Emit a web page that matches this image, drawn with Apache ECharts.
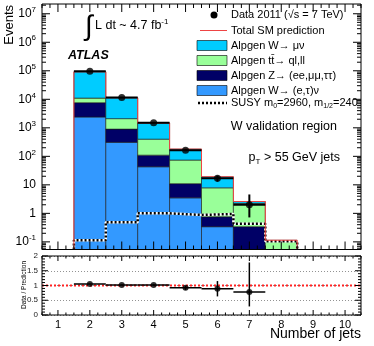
<!DOCTYPE html>
<html>
<head>
<meta charset="utf-8">
<script src="https://cdn.jsdelivr.net/npm/echarts@6/dist/echarts.min.js"></script>
<style>
html, body { margin: 0; padding: 0; background: #fff; }
#chart { width: 374px; height: 346px; }
</style>
</head>
<body>
<div id="chart"></div>
<script>
// jet multiplicity bins of the stacked histogram
const jets = [2, 3, 4, 5, 6, 7, 8];
const wTauE = [2400, 310, 43, 3.5, 0.34, 0.02, 0.001];
const zJets = [5200, 590, 67, 7.5, 0.42, 0.32, 0.003];
const ttbar = [3400, 1200, 290, 63, 7.1, 1.9, 0.105];
const wMu = [81000, 9200, 1070, 105, 11.3, 0.36, 0.005];
const susy = [0.115, 0.49, 1.0, 0.88, 0.95, 0.43, 0.106];

// data points
const dataJets = [2, 3, 4, 5, 6, 7];
const dataVal = [96000, 11500, 1500, 165, 17, 2];
const dataLo = [95690, 11390, 1461, 152, 12.9, 0.72];
const dataHi = [96310, 11610, 1539, 178, 21.1, 4.6];

// data / prediction
const ratioVal = [1.05, 1.02, 1.02, 0.92, 0.886, 0.78];
const ratioLo = [1.04, 1.01, 0.99, 0.85, 0.63, 0.29];
const ratioHi = [1.06, 1.03, 1.05, 0.99, 1.15, 1.78];

const xTickLabels = [1, 2, 3, 4, 5, 6, 7, 8, 9, 10];
const yTickLabels = [0.1, 1, 10, 100, 1e3, 1e4, 1e5, 1e6, 1e7];
const ratioTickLabels = [0, 0.5, 1, 1.5, 2];

const X_MIN = 0.5, X_MAX = 10.5;
const Y_MIN = 0.054, Y_MAX = 2.2e7;
const FONT = 'Liberation Sans, Arial, sans-serif';

const chart = echarts.init(document.getElementById('chart'), null, {renderer: 'canvas'});

const stackDefs = [
    {name: 'Alpgen W\u2192 (e,\u03c4)\u03bd', vals: wTauE, color: '#3399ff'},
    {name: 'Alpgen Z\u2192 (ee,\u03bc\u03bc,\u03c4\u03c4)', vals: zJets, color: '#000066'},
    {name: 'Alpgen tt\u0304\u2192 ql,ll', vals: ttbar, color: '#99ff99'},
    {name: 'Alpgen W\u2192 \u03bc\u03bd', vals: wMu, color: '#00ccff'}
];

let base = jets.map(() => 0);
const stackSeries = stackDefs.map(d => {
    const items = jets.map((j, i) => {
        const lo = base[i];
        base[i] += d.vals[i];
        return [j, base[i], lo];
    });
    return {
        type: 'custom', name: d.name, xAxisIndex: 0, yAxisIndex: 0, z: 2,
        encode: {x: 0, y: 1},
        data: items,
        renderItem: (params, api) => {
            const j = api.value(0);
            const hi = Math.min(api.value(1), Y_MAX);
            const lo = Math.max(api.value(2), Y_MIN);
            if (hi <= lo) return null;
            const p0 = api.coord([j - 0.5, hi]);
            const p1 = api.coord([j + 0.5, lo]);
            return {
                type: 'rect',
                shape: {x: p0[0], y: p0[1], width: p1[0] - p0[0], height: p1[1] - p0[1]},
                style: {fill: d.color, stroke: '#1a1a1a', lineWidth: 0.6}
            };
        }
    };
});
const totals = base.slice();

function stepPoints(vals) {
    const pts = [[jets[0] - 0.5, Y_MIN]];
    jets.forEach((j, i) => {
        pts.push([j - 0.5, vals[i]], [j + 0.5, vals[i]]);
    });
    pts.push([jets[jets.length - 1] + 0.5, Y_MIN]);
    return pts;
}

function line(x1, y1, x2, y2, w) {
    return {type: 'line', shape: {x1, y1, x2, y2}, style: {stroke: '#000', lineWidth: w || 1}};
}

// frame with inward ticks on all four sides
function frameSeries(xi, yi, yMin, yMax, xTicks, yTicks) {
    return {
        type: 'custom', xAxisIndex: xi, yAxisIndex: yi, z: 10, silent: true,
        data: [[1, 1]],
        renderItem: (params, api) => {
            const tl = api.coord([X_MIN, yMax]);
            const br = api.coord([X_MAX, yMin]);
            const kids = [{
                type: 'rect',
                shape: {x: tl[0], y: tl[1], width: br[0] - tl[0], height: br[1] - tl[1]},
                style: {fill: 'none', stroke: '#000', lineWidth: 1}
            }];
            xTicks.forEach(t => {
                const x = api.coord([t[0], yMin])[0];
                kids.push(line(x, br[1], x, br[1] - t[1]), line(x, tl[1], x, tl[1] + t[1]));
            });
            yTicks.forEach(t => {
                const y = api.coord([X_MIN, t[0]])[1];
                kids.push(line(tl[0], y, tl[0] + t[1], y), line(br[0], y, br[0] - t[1], y));
            });
            return {type: 'group', children: kids};
        }
    };
}

const mainXTicks = [], ratioXTicks = [];
for (let v = X_MIN; v <= X_MAX + 1e-9; v += 0.25) {
    const major = Math.abs(v - Math.round(v)) < 1e-6;
    mainXTicks.push([v, major ? 8 : 4]);
    ratioXTicks.push([v, major ? 5 : 2.5]);
}
const mainYTicks = [];
for (let e = -2; e <= 7; e++) {
    for (let m = 1; m <= 9; m++) {
        const v = m * Math.pow(10, e);
        if (v >= Y_MIN && v <= Y_MAX) mainYTicks.push([v, m === 1 ? 8 : 4]);
    }
}
const ratioYTicks = [];
for (let k = 0; k <= 20; k++) {
    ratioYTicks.push([k / 10, k % 5 === 0 ? 6 : 3]);
}

const dataItems = dataJets.map((j, i) => [j, dataVal[i], dataLo[i], dataHi[i]]);
const ratioItems = dataJets.map((j, i) => [j, ratioVal[i], ratioLo[i], ratioHi[i]]);

function errorBars(xi, yi, w) {
    return (params, api) => {
        const j = api.value(0);
        const c = api.coord([j, api.value(1)]);
        const l = api.coord([j - 0.5, api.value(1)]);
        const r = api.coord([j + 0.5, api.value(1)]);
        const lo = api.coord([j, api.value(2)]);
        const hi = api.coord([j, api.value(3)]);
        return {type: 'group', children: [
            line(l[0], c[1], r[0], c[1], w),
            line(c[0], lo[1], c[0], hi[1], w)
        ]};
    };
}

const legendRows = [15, 30.5, 45.5, 60.5, 75.5, 90.5, 103];
const legendItems = [];
legendItems.push({type: 'circle', shape: {cx: 214, cy: legendRows[0], r: 3.5}, style: {fill: '#000'}});
legendItems.push({type: 'line', shape: {x1: 200, y1: legendRows[1], x2: 227, y2: legendRows[1]}, style: {stroke: '#ee4444', lineWidth: 1}});
stackDefs.slice().reverse().forEach((d, k) => {
    legendItems.push({type: 'rect', shape: {x: 197, y: legendRows[2 + k] - 5, width: 30, height: 10},
        style: {fill: d.color, stroke: '#000', lineWidth: 0.6}});
});
legendItems.push({type: 'line', shape: {x1: 198, y1: legendRows[6], x2: 227, y2: legendRows[6]}, style: {stroke: '#fff', lineWidth: 2.5}});
legendItems.push({type: 'line', shape: {x1: 198, y1: legendRows[6], x2: 227, y2: legendRows[6]}, style: {stroke: '#000', lineWidth: 2.5, lineDash: [2, 2]}});
const legendTexts = [
    'Data 2011 (\u221as = 7 TeV)',
    'Total SM prediction'
].concat(stackDefs.slice().reverse().map(d => d.name))
 .concat(['SUSY m{sub|0}=2960, m{sub|1/2}=240']);
legendTexts.forEach((t, k) => {
    legendItems.push({
        type: 'text', x: 231, y: legendRows[k],
        style: {
            text: t, fontFamily: FONT, fontSize: 11, lineHeight: 13, fill: '#000',
            textVerticalAlign: 'middle',
            rich: {sub: {fontSize: 7, lineHeight: 7, verticalAlign: 'bottom', fontFamily: FONT}}
        }
    });
});

const option = {
    animation: false,
    textStyle: {fontFamily: FONT},
    grid: [
        {left: 42, right: 13, top: 4, bottom: 96.5},
        {left: 42, right: 13, top: 256, bottom: 31}
    ],
    xAxis: [
        {type: 'value', gridIndex: 0, min: X_MIN, max: X_MAX,
            axisLine: {show: false}, axisTick: {show: false}, axisLabel: {show: false}, splitLine: {show: false}},
        {type: 'value', gridIndex: 1, min: X_MIN, max: X_MAX,
            axisLine: {show: false}, axisTick: {show: false}, splitLine: {show: false},
            axisLabel: {customValues: xTickLabels, fontSize: 11, color: '#000', margin: 4}}
    ],
    yAxis: [
        {type: 'log', logBase: 10, gridIndex: 0, min: Y_MIN, max: Y_MAX,
            axisLine: {show: false}, axisTick: {show: false}, splitLine: {show: false}, minorTick: {show: false},
            axisLabel: {
                customValues: yTickLabels, fontSize: 12, color: '#000', margin: 6,
                formatter: v => {
                    const e = Math.round(Math.log10(v));
                    if (e === 0) return '1';
                    if (e === 1) return '10';
                    return '{b|10}{s|' + e + '}';
                },
                rich: {
                    b: {fontSize: 12, lineHeight: 16},
                    s: {fontSize: 8, lineHeight: 8, verticalAlign: 'top'}
                }
            }},
        {type: 'value', gridIndex: 1, min: 0, max: 2, interval: 0.5,
            axisLine: {show: false}, axisTick: {show: false},
            splitLine: {show: true, lineStyle: {color: '#777', width: 0.8, type: [1, 2]}},
            axisLabel: {customValues: ratioTickLabels, fontSize: 8, color: '#222', margin: 4,
                formatter: v => String(v)}}
    ],
    series: stackSeries.concat([
        {type: 'line', xAxisIndex: 0, yAxisIndex: 0, z: 3, showSymbol: false, silent: true,
            data: stepPoints(susy), lineStyle: {color: '#fff', width: 2.5}},
        {type: 'line', xAxisIndex: 0, yAxisIndex: 0, z: 3, showSymbol: false, silent: true,
            data: stepPoints(susy), lineStyle: {color: '#000', width: 2.5, type: [2, 2]}},
        {type: 'line', xAxisIndex: 0, yAxisIndex: 0, z: 4, showSymbol: false, silent: true,
            data: stepPoints(totals), lineStyle: {color: '#ee4444', width: 1}},
        {type: 'custom', xAxisIndex: 0, yAxisIndex: 0, z: 5, encode: {x: 0, y: 1},
            data: dataItems, renderItem: errorBars(0, 0, 2)},
        {type: 'scatter', xAxisIndex: 0, yAxisIndex: 0, z: 6, symbolSize: 7,
            itemStyle: {color: '#000'}, data: dataItems.map(d => [d[0], d[1]])},
        {type: 'line', xAxisIndex: 1, yAxisIndex: 1, z: 4, showSymbol: false, silent: true,
            data: [[X_MIN, 1], [X_MAX, 1]], lineStyle: {color: '#ff2222', width: 2, type: [2, 2]}},
        {type: 'custom', xAxisIndex: 1, yAxisIndex: 1, z: 5, encode: {x: 0, y: 1},
            data: ratioItems, renderItem: errorBars(1, 1, 1.5)},
        {type: 'scatter', xAxisIndex: 1, yAxisIndex: 1, z: 6, symbolSize: 6,
            itemStyle: {color: '#000'}, data: ratioItems.map(d => [d[0], d[1]])},
        frameSeries(0, 0, Y_MIN, Y_MAX, mainXTicks, mainYTicks),
        frameSeries(1, 1, 0, 2, ratioXTicks, ratioYTicks)
    ]),
    graphic: legendItems.concat([
        {type: 'text', x: 9, y: 5, rotation: Math.PI / 2,
            style: {text: 'Events', fontFamily: FONT, fontSize: 13, fill: '#000', textAlign: 'right', textVerticalAlign: 'middle'}},
        {type: 'text', x: 24, y: 285, rotation: Math.PI / 2,
            style: {text: 'Data / Prediction', fontFamily: FONT, fontSize: 6.5, fill: '#000', textAlign: 'center', textVerticalAlign: 'middle'}},
        {type: 'text', x: 68, y: 56,
            style: {text: 'ATLAS', fontFamily: FONT, fontSize: 12.5, fontWeight: 'bold', fontStyle: 'italic', fill: '#000', textVerticalAlign: 'middle'}},
        {type: 'text', x: 85, y: 27,
            style: {text: '\u222b', fontFamily: FONT, fontSize: 28, fill: '#000', textVerticalAlign: 'middle'}},
        {type: 'text', x: 95, y: 26,
            style: {text: 'L dt ~ 4.7 fb{s|-1}', fontFamily: FONT, fontSize: 12.5, lineHeight: 16, fill: '#000', textVerticalAlign: 'middle',
                rich: {s: {fontSize: 8, lineHeight: 8, verticalAlign: 'top', fontFamily: FONT}}}},
        {type: 'text', x: 337, y: 127,
            style: {text: 'W validation region', fontFamily: FONT, fontSize: 12.5, fill: '#000', textAlign: 'right', textVerticalAlign: 'middle'}},
        {type: 'text', x: 340, y: 158,
            style: {text: 'p{sub|T} > 55 GeV jets', fontFamily: FONT, fontSize: 12.5, lineHeight: 15, fill: '#000', textAlign: 'right', textVerticalAlign: 'middle',
                rich: {sub: {fontSize: 8, lineHeight: 8, verticalAlign: 'bottom', fontFamily: FONT}}}},
        {type: 'text', x: 361, y: 334,
            style: {text: 'Number of jets', fontFamily: FONT, fontSize: 14, fill: '#000', textAlign: 'right', textVerticalAlign: 'middle'}}
    ])
};

chart.setOption(option);
</script>
</body>
</html>
